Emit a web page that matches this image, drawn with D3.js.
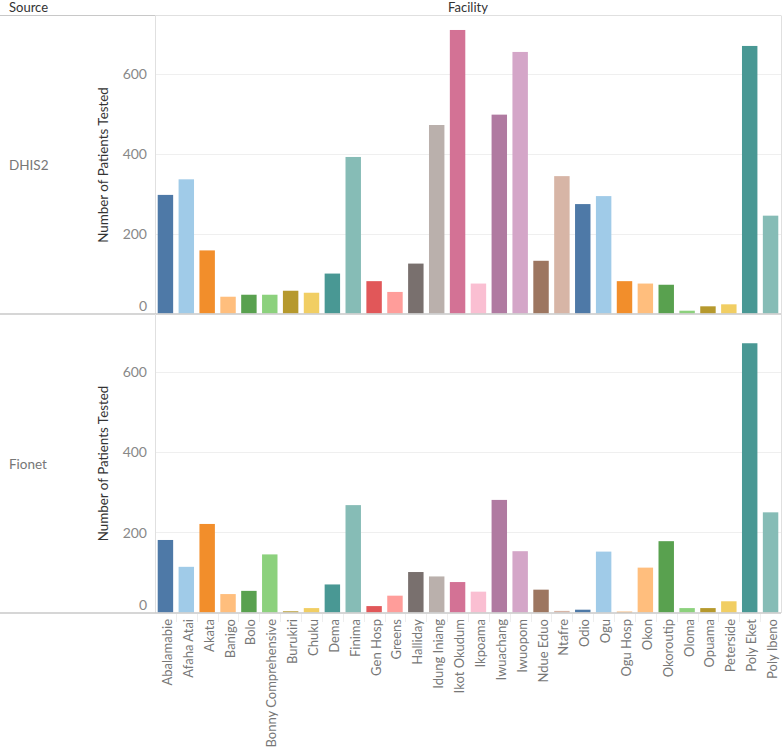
<!DOCTYPE html>
<html><head><meta charset="utf-8">
<script src="https://cdn.jsdelivr.net/npm/d3@7"></script>
<style>body{margin:0;background:#fff;} svg{display:block;font-family:Lato, "Open Sans", sans-serif;}</style>
</head><body>
<svg id="chart" width="784" height="750"></svg>
<script>
const facilities = ["Abalamabie","Afaha Atai","Akata","Banigo","Bolo","Bonny Comprehensive","Burukiri","Chuku","Dema","Finima","Gen Hosp","Greens","Halliday","Idung Iniang","Ikot Okudum","Ikpoama","Iwuachang","Iwuopom","Ndue Eduo","Ntafre","Odio","Ogu","Ogu Hosp","Okon","Okoroutip","Oloma","Opuama","Peterside","Poly Eket","Poly Ibeno"];
const sources = ["DHIS2","Fionet"];
const dhis2 = [297,336,158,42,47,47,57,52,100,392,81,54,125,472,710,75,498,655,132,344,274,294,81,75,72,7,18,23,670,245];
const fionet = [181,114,221,46,54,145,3,11,70,268,16,42,101,90,76,52,281,153,57,4,7,152,2,112,178,11,11,28,672,250];
const yTicks = [0,200,400,600];
const palette = ["#4E79A7","#A0CBE8","#F28E2B","#FFBE7D","#59A14F","#8CD17D","#B6992D","#F1CE63","#499894","#86BCB6","#E15759","#FF9D9A","#79706E","#BAB0AC","#D37295","#FABFD2","#B07AA1","#D4A6C8","#9D7660","#D7B5A6"];

const seriesValues = {DHIS2: dhis2, Fionet: fionet};
const svg = d3.select("#chart");
const plotL = 155, plotR = 781;
const headerY = 15.5;
const panels = [{name:"DHIS2", top:16, bottom:314},{name:"Fionet", top:314, bottom:613}];

const x = d3.scaleBand().domain(facilities).range([plotL, plotR]).paddingInner(0.26).paddingOuter(0.13);
const color = d3.scaleOrdinal().domain(facilities).range(palette);

// header
svg.append("text").attr("x",9).attr("y",12).attr("fill","#333").attr("font-size",13).text("Source");
svg.append("text").attr("x",(plotL+plotR)/2).attr("y",12).attr("fill","#333").attr("font-size",13).attr("text-anchor","middle").text("Facility");
svg.append("line").attr("x1",0).attr("x2",plotL).attr("y1",headerY).attr("y2",headerY).attr("stroke","#c8c8c8");
svg.append("line").attr("x1",plotL).attr("x2",plotR).attr("y1",headerY).attr("y2",headerY).attr("stroke","#e0e0e0");
svg.append("line").attr("x1",plotR+0.5).attr("x2",plotR+0.5).attr("y1",headerY).attr("y2",613).attr("stroke","#e0e0e0");

panels.forEach(p => {
  const y = d3.scaleLinear().domain([0,745]).range([p.bottom - 0.5, p.top]);
  const g = svg.append("g");
  g.selectAll(".grid").data(yTicks.filter(t=>t>0)).join("line")
    .attr("x1",plotL).attr("x2",plotR)
    .attr("y1",d=>Math.round(y(d))+0.5).attr("y2",d=>Math.round(y(d))+0.5)
    .attr("stroke","#efefef");
  g.append("line").attr("x1",plotL+0.5).attr("x2",plotL+0.5).attr("y1",p.top).attr("y2",p.bottom).attr("stroke","#e0e0e0");
  const axis = d3.axisLeft(y).tickValues(yTicks).tickSize(0).tickPadding(8);
  const ag = g.append("g").attr("transform",`translate(${plotL},0)`).call(axis);
  ag.select(".domain").remove();
  ag.selectAll("text").attr("fill","#888").attr("font-size",14).attr("font-family","Lato, sans-serif")
    .attr("dy", d => d===0 ? "-0.2em" : "0.34em");
  g.append("text").attr("transform",`translate(108,${(p.top+p.bottom)/2}) rotate(-90)`)
    .attr("text-anchor","middle").attr("fill","#333").attr("font-size",13.4).text("Number of Patients Tested");
  g.append("text").attr("x",9).attr("y",(p.top+p.bottom)/2+5).attr("fill","#777").attr("font-size",13.5).text(p.name);
  const vals = seriesValues[p.name];
  g.selectAll("rect").data(facilities).join("rect")
    .attr("x",d=>x(d)).attr("width",x.bandwidth())
    .attr("y",(d,i)=>y(vals[i])).attr("height",(d,i)=>y(0)-y(vals[i]))
    .attr("fill",d=>color(d));
  svg.append("line").attr("x1",0).attr("x2",plotR).attr("y1",p.bottom).attr("y2",p.bottom).attr("stroke","#c8c8c8").attr("stroke-width",1.5);
});

// x axis labels
const xg = svg.append("g").attr("transform","translate(0,614)");
xg.selectAll(".div").data(facilities.slice(1)).join("line")
  .attr("x1",d=>Math.round(x(d)-x.step()*x.paddingInner()/2)+0.5).attr("x2",d=>Math.round(x(d)-x.step()*x.paddingInner()/2)+0.5)
  .attr("y1",0).attr("y2",8).attr("stroke","#eeeeee");
xg.selectAll("text").data(facilities).join("text")
  .attr("transform",d=>`translate(${x(d)+x.bandwidth()/2+6.5},5) rotate(-90)`)
  .attr("text-anchor","end").attr("fill","#777").attr("font-size",13).text(d=>d);
</script>
</body></html>
